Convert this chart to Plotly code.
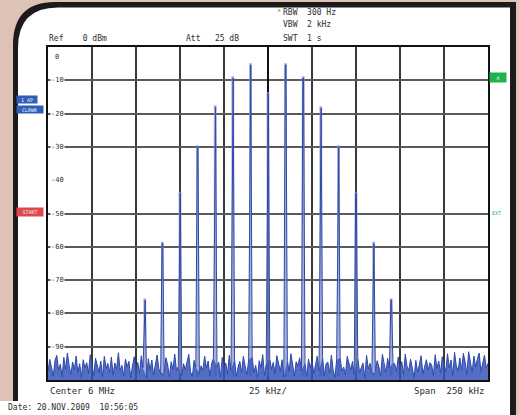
import plotly.graph_objects as go

# ---------------- data ----------------
noise_khz = list(range(-125, 126))          # frequency offset from 6 MHz centre, kHz
noise_dbm = [
    -97.5, -93.8, -96.2, -98.9, -94.1, -92.6, -97.0, -95.3, -99.1, -93.2, -96.8, -91.9, -95.7, -98.3, -94.6, -96.9, -92.8, -97.8, -95.1, -99.2, -93.9, -96.4, -94.8, -98.0, -92.4,
    -96.1, -98.6, -93.5, -95.9, -97.7, -94.3, -99.0, -92.9, -96.5, -95.0, -97.9, -93.1, -98.4, -94.9, -96.7, -91.8, -97.2, -95.6, -98.8, -93.7, -96.0, -94.4, -99.3, -95.8, -93.0,
    -97.4, -94.7, -98.1, -92.7, -96.3, -95.4, -99.4, -93.6, -97.1, -94.0, -98.5, -95.2, -92.5, -96.6, -98.2, -94.2, -97.6, -93.3, -95.5, -99.0, -94.5, -96.8, -92.2, -97.3, -95.9,
    -93.4, -98.7, -95.1, -96.9, -94.8, -92.3, -97.5, -99.1, -94.1, -96.2, -93.9, -98.0, -95.7, -97.2, -92.8, -96.4, -94.3, -98.9, -95.0, -93.5, -97.8, -96.0, -94.6, -99.2, -93.2,
    -96.5, -94.9, -98.3, -92.6, -97.0, -95.3, -93.8, -99.0, -96.1, -94.4, -97.7, -92.9, -95.8, -98.4, -94.0, -96.7, -93.1, -97.9, -95.6, -99.3, -94.2, -96.3, -92.4, -98.6, -95.2,
    -97.1, -93.6, -96.8, -94.7, -98.2, -92.7, -95.4, -97.4, -93.9, -99.1, -95.9, -94.1, -97.6, -92.1, -96.0, -98.8, -94.5, -95.7, -93.3, -97.3, -96.6, -94.8, -99.0, -93.7, -96.2,
    -94.3, -98.0, -95.5, -92.8, -97.2, -96.4, -93.0, -98.7, -95.1, -94.6, -97.9, -92.5, -96.9, -99.2, -94.0, -95.8, -93.4, -97.5, -96.1, -98.5, -92.9, -95.3, -97.0, -94.4, -98.3,
    -95.6, -93.2, -97.7, -96.3, -94.9, -99.4, -92.6, -96.7, -95.0, -98.1, -93.8, -97.3, -94.2, -96.0, -98.9, -92.3, -95.7, -97.8, -93.5, -96.5, -99.0, -94.7, -95.2, -97.4, -93.1,
    -96.8, -94.5, -98.4, -92.2, -95.9, -97.1, -93.7, -96.2, -99.3, -94.1, -97.6, -95.4, -92.7, -98.2, -96.0, -93.9, -97.0, -94.8, -95.5, -98.7, -92.4, -96.6, -94.3, -97.9, -93.0,
    -95.1, -97.5, -92.1, -96.4, -94.0, -98.6, -91.7, -95.8, -97.2, -93.4, -96.9, -92.0, -94.6, -98.3, -91.5, -95.3, -97.7, -92.8, -96.1, -93.6, -91.9, -97.4, -94.4, -92.6, -96.3,
    -95.0,
]
sideband_khz = [-70, -60, -50, -40, -30, -20, -10, 0, 10, 20, 30, 40, 50, 60, 70]
sideband_dbm = [-76.0, -59.0, -44.0, -30.0, -18.0, -9.3, -5.4, -14.0, -5.4, -9.3, -18.3, -30.0, -44.0, -59.0, -76.0]

y_grid_dbm = [-10, -20, -30, -50, -60, -70, -80, -90]
y_label_dbm = [0, -10, -20, -30, -40, -50, -60, -70, -80, -90]
x_grid_khz = [-100, -75, -50, -25, 25, 50, 75, 100]

# ---------------- geometry helpers ----------------
W, H = 519, 415
L, R, T, B = 48, 31, 47, 35
PW, PH = W - L - R, H - T - B


def px(x):
    return (x - L) / PW


def py(y):
    return (H - B - y) / PH


# ---------------- build traces ----------------
peak = dict(zip(sideband_khz, sideband_dbm))
xs, ys = [], []          # full trace (noise + carriers)
nx, ny = [], []          # noise floor only (for the filled band)
for f, v in zip(noise_khz, noise_dbm):
    if f in peak:
        xs += [f - 0.2, f + 0.2]
        ys += [peak[f], peak[f]]
    else:
        xs.append(f)
        ys.append(v)
        nx.append(f)
        ny.append(v)

hx, hy = [], []
for f, lv in zip(sideband_khz, sideband_dbm):
    hx += [f, f, None]
    hy += [-99, lv + 0.5, None]

fig = go.Figure()
fig.add_trace(go.Scatter(x=hx, y=hy, mode="lines",
                         line=dict(color="rgba(140,150,205,0.75)", width=2.8),
                         hoverinfo="skip"))
fig.add_trace(go.Scatter(x=[noise_khz[0], noise_khz[-1]], y=[-100, -100], mode="lines",
                         line=dict(width=0), hoverinfo="skip"))
fig.add_trace(go.Scatter(x=nx, y=ny, mode="lines", fill="tonexty",
                         fillcolor="rgba(55,85,185,0.85)",
                         line=dict(width=0), hoverinfo="skip"))
fig.add_trace(go.Scatter(x=xs, y=ys, mode="lines",
                         line=dict(color="#2c49aa", width=1)))

# ---------------- frame shapes ----------------
shapes = []
outer = (f"M {px(13)},{py(420)} L {px(13)},{py(45)} Q {px(13)},{py(2)} {px(55)},{py(2)} "
         f"L {px(516)},{py(2)} L {px(516)},{py(420)} Z")
inner = (f"M {px(18)},{py(420)} L {px(18)},{py(48)} Q {px(18)},{py(7.5)} {px(58)},{py(7.5)} "
         f"L {px(510)},{py(7.5)} L {px(510)},{py(420)} Z")
shapes.append(dict(type="path", xref="paper", yref="paper", path=outer,
                   fillcolor="#1c1a1a", line=dict(width=0), layer="below"))
shapes.append(dict(type="path", xref="paper", yref="paper", path=inner,
                   fillcolor="#ffffff", line=dict(width=0), layer="below"))
shapes.append(dict(type="rect", xref="paper", yref="paper", x0=px(0), x1=px(510),
                   y0=py(401), y1=py(420), fillcolor="#ffffff", line=dict(width=0), layer="below"))

# ---------------- annotations ----------------
MONO = "DejaVu Sans Mono"
TXT = "#2e2e2e"
ann = []


def text(x, y, s, size=8, color=TXT, anchor="left"):
    ann.append(dict(xref="paper", yref="paper", x=px(x), y=py(y), text=s, showarrow=False,
                    xanchor=anchor, yanchor="middle", font=dict(family=MONO, size=size, color=color)))


text(275, 12, "*", 7, "#30b050")
text(281, 12, "RBW  300 Hz")
text(281, 25, "VBW  2 kHz")
text(281, 38, "SWT  1 s")
text(47, 38, "Ref    0 dBm")
text(184, 38, "Att   25 dB")
text(48, 391, "Center 6 MHz", 9)
text(412, 391, "Span  250 kHz", 9)
text(6, 407, "Date: 20.NOV.2009  10:56:05", 8)
ann.append(dict(xref="x", yref="paper", x=0, y=py(391), text="25 kHz/", showarrow=False,
                xanchor="center", yanchor="middle", font=dict(family=MONO, size=9, color=TXT)))

for v in y_label_dbm:
    if v == 0:
        ann.append(dict(xref="paper", yref="y", x=px(53), y=v - 1.2, text="0", showarrow=False,
                        xanchor="left", yanchor="top", font=dict(family=MONO, size=7, color=TXT)))
    else:
        ann.append(dict(xref="paper", yref="y", x=px(50), y=v, text=f"-{abs(v)}", showarrow=False,
                        xanchor="left", yanchor="middle", bgcolor="#ffffff", borderpad=0,
                        font=dict(family=MONO, size=7, color=TXT)))


def badge(x0, x1, yc, h, s, bg):
    ann.append(dict(xref="paper", yref="paper", x=px((x0 + x1) / 2), y=py(yc), text=s,
                    showarrow=False, xanchor="center", yanchor="middle", width=x1 - x0, height=h,
                    bgcolor=bg, borderpad=0, font=dict(family=MONO, size=5, color="#e8eefc")))


badge(17, 37, 99.5, 7, "1 AP", "#2f5db8")
badge(17, 43, 109.5, 7, "CLRWR", "#2f5db8")
badge(17, 43, 212, 8, "START", "#e04848")
badge(490, 506, 77.5, 9, "A", "#22b24c")
text(490, 213, "EXT", 5, "#22b24c")

fig.update_layout(
    width=W, height=H, margin=dict(l=L, r=R, t=T, b=B),
    paper_bgcolor="#dfc2b6", plot_bgcolor="#ffffff",
    showlegend=False, shapes=shapes, annotations=ann,
    xaxis=dict(range=[-125, 125], tickvals=x_grid_khz, showticklabels=False, ticks="",
               showgrid=True, gridcolor="#3a3a3a", gridwidth=1.5,
               zeroline=True, zerolinecolor="#111111", zerolinewidth=2,
               showline=True, mirror=True, linecolor="#111111", linewidth=2, fixedrange=True),
    yaxis=dict(range=[-100, 0], tickvals=y_grid_dbm, showticklabels=False, ticks="",
               showgrid=True, gridcolor="#5a5a5a", gridwidth=2, zeroline=False,
               showline=True, mirror=True, linecolor="#111111", linewidth=2, fixedrange=True),
)

fig.write_html("out.html", config={"displayModeBar": False},
               post_script="document.body.style.margin='0';document.body.style.overflow='hidden';")
